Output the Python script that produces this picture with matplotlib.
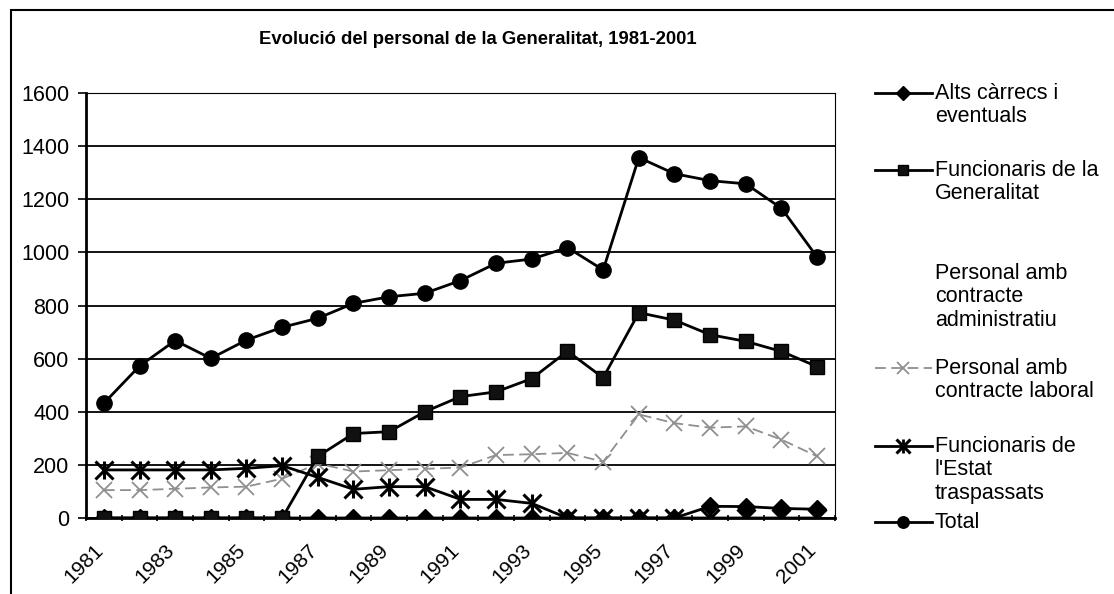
import matplotlib
matplotlib.use("Agg")
import matplotlib.pyplot as plt
from matplotlib.lines import Line2D
from matplotlib.patches import Rectangle

plt.rcParams['font.family'] = ['Liberation Sans', 'DejaVu Sans']

# dades llegides del gràfic
anys = list(range(1981, 2002))
alts = [0, 0, 0, 0, 0, 0, 0, 0, 0, 0, 0, 0, 0, 0, 0, 0, 0, 44, 43, 36, 33]
func_gen = [0, 0, 0, 0, 0, 0, 232, 318, 325, 400, 457, 475, 525, 628, 528,
            773, 745, 690, 665, 627, 570]
laboral = [105, 105, 110, 115, 118, 148, 205, 175, 180, 185, 190, 237, 240,
           245, 212, 390, 357, 340, 345, 295, 232]
estat = [181, 181, 181, 181, 187, 197, 153, 108, 118, 118, 70, 70, 55, 0, 0,
         0, 0, 0, 0, 0, 0]
total = [432, 572, 668, 601, 670, 718, 752, 808, 833, 846, 894, 959, 975,
         1018, 934, 1357, 1296, 1270, 1258, 1166, 982]

titol = "Evolució del personal de la Generalitat, 1981-2001"
etiquetes = ["Alts càrrecs i\neventuals",
             "Funcionaris de la\nGeneralitat",
             "Personal amb\ncontracte\nadministratiu",
             "Personal amb\ncontracte laboral",
             "Funcionaris de\nl'Estat\ntraspassats",
             "Total"]

W, H = 1114, 594
fig = plt.figure(figsize=(W / 100, H / 100), dpi=100)
ax = fig.add_axes([86 / W, 1 - 518 / H, (835 - 86) / W, (518 - 93) / H])

x = list(range(len(anys)))
grey = '#8f8f8f'

# estils de les series (tambe per a la llegenda)
st_alts = dict(color='black', lw=2, marker='D', ms=9, mfc='black', mec='black')
st_gen = dict(color='black', lw=2, marker='s', ms=10, mfc='#111111', mec='black')
st_lab = dict(color=grey, lw=1.3, ls=(0, (6, 3)), marker='x', ms=11, mew=1.3)
st_est = dict(color='black', lw=2, marker='x', ms=13, mew=2.2)
st_tot = dict(color='black', lw=2, marker='o', ms=11, mfc='black', mec='black')

ax.plot(x, alts, zorder=3, **st_alts)
ax.plot(x, func_gen, zorder=4, **st_gen)
ax.plot(x, laboral, zorder=3.5, **st_lab)
ax.plot(x, estat, zorder=5, **st_est)
ax.plot(x, estat, ls='none', marker='|', ms=13, mew=2.2, color='black', zorder=5)
ax.plot(x, total, zorder=6, **st_tot)

ax.set_xlim(-0.5, len(anys) - 0.5)
ax.set_ylim(0, 1600)
ax.set_yticks(range(0, 1601, 200))
ax.grid(axis='y', color='black', lw=1.3)
ax.set_axisbelow(True)

ax.set_xticks(x[::2])
ax.set_xticklabels([str(a) for a in anys[::2]], rotation=45, ha='right',
                   va='baseline', rotation_mode='anchor', fontsize=15)
ax.set_xticks([i - 0.5 for i in range(len(anys) + 1)], minor=True)
ax.tick_params(axis='x', which='major', length=0, pad=24)
ax.tick_params(axis='x', which='minor', length=5, width=1.2, direction='inout')
ax.tick_params(axis='y', length=6, width=1.2, labelsize=15.5, pad=6)

for s in ['left', 'bottom']:
    ax.spines[s].set_linewidth(2)
for s in ['top', 'right']:
    ax.spines[s].set_linewidth(0.8)

fig.text(478 / W, 1 - 40 / H, titol, ha='center', va='center',
         fontsize=13.3, fontweight='bold')

# llegenda dibuixada a mà
estils = [st_alts, st_gen, None, st_lab, st_est, st_tot]
ys = [93, 170, 273, 368, 446, 522]
for et, st, yy in zip(etiquetes, estils, ys):
    yf = 1 - yy / H
    if st is not None:
        st2 = dict(st)
        st2['ms'] = st2['ms'] * 0.75
        fig.add_artist(Line2D([875 / W, 903 / W, 932 / W], [yf, yf, yf],
                              markevery=[1], transform=fig.transFigure, **st2))
        if st is st_est:
            fig.add_artist(Line2D([903 / W], [yf], ls='none', marker='|',
                                  ms=10, mew=2, color='black',
                                  transform=fig.transFigure))
    fig.text(935 / W, yf + 10 / H, et, ha='left', va='top', fontsize=15.5,
             linespacing=1.15)

# marc exterior
fig.add_artist(Rectangle((11 / W, -0.1), 1.2, 1.1 - 10 / H, fill=False,
                         lw=1.5, ec='black', transform=fig.transFigure))

fig.savefig("out.png", dpi=100)
